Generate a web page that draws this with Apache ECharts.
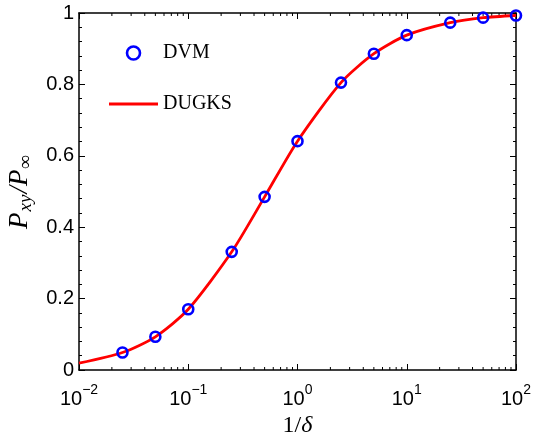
<!DOCTYPE html>
<html><head><meta charset="utf-8">
<script src="https://cdn.jsdelivr.net/npm/echarts@6/dist/echarts.min.js"></script>
<style>html,body{margin:0;padding:0;background:#fff}#c{width:538px;height:434px}</style>
</head><body><div id="c"></div>
<script>
// DVM data (markers)
const dvmX = [0.025, 0.05, 0.1, 0.25, 0.5, 1, 2.5, 5, 10, 25, 50, 100];
const dvmY = [0.049, 0.093, 0.170, 0.331, 0.485, 0.641, 0.805, 0.886, 0.938, 0.973, 0.987, 0.993];
// DUGKS data (line)
const dugksX = [0.01, 0.025, 0.05, 0.1, 0.25, 0.5, 1, 2.5, 5, 10, 25, 50, 100];
const dugksY = [0.019, 0.049, 0.093, 0.170, 0.331, 0.485, 0.641, 0.805, 0.886, 0.938, 0.973, 0.987, 0.993];
// log-axis minor tick positions
const xMinor = [0.02,0.03,0.04,0.05,0.06,0.07,0.08,0.09,
                0.2,0.3,0.4,0.5,0.6,0.7,0.8,0.9,
                2,3,4,5,6,7,8,9,
                20,30,40,50,60,70,80,90];

const chart = echarts.init(document.getElementById('c'));
const axisLine = {show: true, onZero: false, lineStyle: {color: '#000', width: 1.5}};
const sansLabel = {fontFamily: 'Liberation Sans', fontSize: 20, color: '#000'};

const xLabelFmt = v => {
  const e = Math.round(Math.log10(v));
  return '{b|10}{s|' + (e < 0 ? '\u2212' + (-e) : e) + '}';
};

chart.setOption({
  animation: false,
  backgroundColor: '#fff',
  grid: {left: 79, top: 13, right: 22, bottom: 64, containLabel: false, outerBoundsMode: 'none'},
  legend: {
    orient: 'vertical', left: 104, top: 38, itemWidth: 49, itemHeight: 13, itemGap: 31,
    textStyle: {fontFamily: 'Liberation Serif', fontSize: 20, color: '#000'},
    data: [
      {name: 'DVM', icon: 'circle', itemStyle: {color: 'rgba(0,0,0,0)', borderColor: '#0000ff', borderWidth: 2.6, opacity: 1}},
      {name: 'DUGKS', icon: 'path://M0,0 L49,0 L49,2.8 L0,2.8 Z', itemStyle: {color: '#ff0000', borderWidth: 0}}
    ]
  },
  xAxis: [{
    type: 'log', logBase: 10, min: 0.01, max: 100, position: 'bottom',
    axisLine: axisLine,
    axisTick: {show: true, inside: true, length: 6, lineStyle: {color: '#000', width: 1}},
    splitLine: {show: false},
    axisLabel: {margin: 13, formatter: xLabelFmt,
      rich: {b: {fontFamily: 'Liberation Sans', fontSize: 20, color: '#000', verticalAlign: 'bottom', lineHeight: 26},
             s: {fontFamily: 'Liberation Sans', fontSize: 14, color: '#000', verticalAlign: 'top', lineHeight: 26}}},
    name: '{n|1/}{d|\u03b4}', nameLocation: 'middle', nameGap: 42,
    nameTextStyle: {rich: {n: {fontFamily: 'Liberation Serif', fontSize: 24, color: '#000'},
                           d: {fontFamily: 'Liberation Serif', fontStyle: 'italic', fontSize: 24, color: '#000'}}}
  }, {
    type: 'log', logBase: 10, min: 0.01, max: 100, position: 'top',
    axisLine: axisLine,
    axisTick: {show: true, inside: true, length: 6, lineStyle: {color: '#000', width: 1}},
    axisLabel: {show: false}, splitLine: {show: false}
  }],
  yAxis: [{
    type: 'value', min: 0, max: 1, interval: 0.2, position: 'left',
    axisLine: axisLine,
    axisTick: {show: true, inside: true, length: 6, lineStyle: {color: '#000', width: 1}},
    minorTick: {show: true, splitNumber: 5, length: 3, lineStyle: {color: '#000', width: 1}},
    splitLine: {show: false},
    axisLabel: Object.assign({margin: 5}, sansLabel),
    name: '{p|P}{s|xy}{p|/P}{s|\u221e}', nameLocation: 'middle', nameGap: 30, nameRotate: 90,
    nameTextStyle: {rich: {
      p: {fontFamily: 'Liberation Serif', fontStyle: 'italic', fontSize: 27, color: '#000', lineHeight: 30, verticalAlign: 'middle'},
      s: {fontFamily: 'Liberation Serif', fontStyle: 'italic', fontSize: 19, color: '#000', lineHeight: 16, verticalAlign: 'bottom', padding: [0, 1, 0, 1]}}}
  }, {
    type: 'value', min: 0, max: 1, interval: 0.2, position: 'right',
    axisLine: axisLine,
    axisTick: {show: true, inside: true, length: 6, lineStyle: {color: '#000', width: 1}},
    minorTick: {show: true, splitNumber: 5, length: 3, lineStyle: {color: '#000', width: 1}},
    splitLine: {show: false}, axisLabel: {show: false}
  }],
  series: [{
    name: 'DUGKS', type: 'line', xAxisIndex: 0, yAxisIndex: 0,
    data: dugksX.map((x, i) => [x, dugksY[i]]),
    showSymbol: false, symbol: 'none', smooth: 0.25, z: 2,
    lineStyle: {color: '#ff0000', width: 2.8}, itemStyle: {color: '#ff0000'}
  }, {
    name: 'DVM', type: 'scatter', xAxisIndex: 0, yAxisIndex: 0,
    data: dvmX.map((x, i) => [x, dvmY[i]]),
    symbol: 'circle', symbolSize: 10, z: 3,
    itemStyle: {color: 'rgba(0,0,0,0)', borderColor: '#0000ff', borderWidth: 2.6, opacity: 1}
  }, {
    type: 'custom', xAxisIndex: 0, yAxisIndex: 0, silent: true, clip: false, z: 1,
    data: xMinor.map(v => [v]),
    renderItem: (params, api) => {
      const b = api.coord([api.value(0), 0]);
      const t = api.coord([api.value(0), 1]);
      const st = {stroke: '#000', lineWidth: 1};
      return {type: 'group', children: [
        {type: 'line', shape: {x1: b[0], y1: b[1], x2: b[0], y2: b[1] - 3}, style: st},
        {type: 'line', shape: {x1: t[0], y1: t[1], x2: t[0], y2: t[1] + 3}, style: st}
      ]};
    }
  }]
});
</script></body></html>
